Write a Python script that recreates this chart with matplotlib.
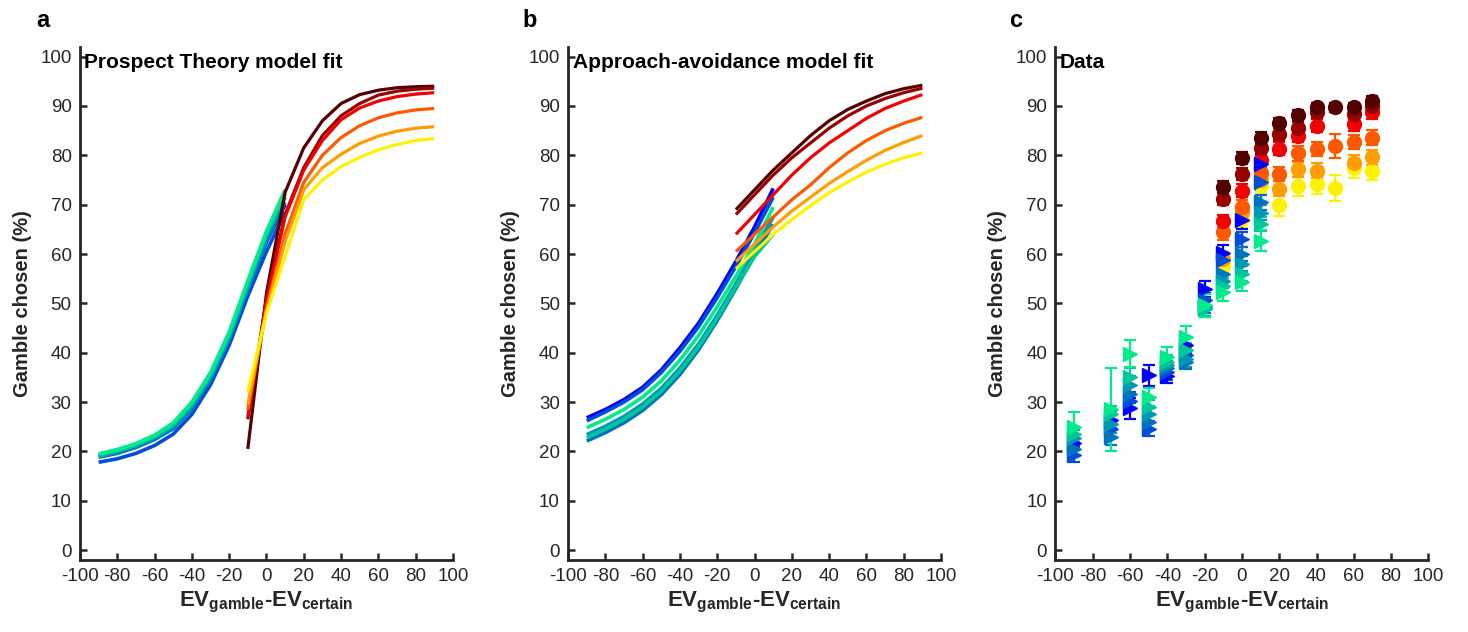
import numpy as np
import matplotlib
matplotlib.use("Agg")
import matplotlib.pyplot as plt

plt.rcParams["font.family"] = ["Liberation Sans", "DejaVu Sans"]
plt.rcParams["mathtext.fontset"] = "custom"
plt.rcParams["mathtext.rm"] = "Liberation Sans"
plt.rcParams["mathtext.bf"] = "Liberation Sans:bold"
plt.rcParams["axes.unicode_minus"] = False

# colours: hot = gain-side conditions, cool = loss-side conditions
HOT_COLORS = [(0.33, 0.0, 0.0), (0.6, 0.0, 0.0), (0.95, 0.0, 0.0),
              (1.0, 0.35, 0.0), (1.0, 0.62, 0.0), (1.0, 0.95, 0.0)]
COOL_COLORS = [(0.0, 0.0, 1.0), (0.0, 0.3, 0.85), (0.0, 0.45, 0.75),
               (0.0, 0.6, 0.7), (0.0, 0.78, 0.6), (0.0, 0.92, 0.55)]

# model curves
x_hot = [-10, 0, 10, 20, 30, 40, 50, 60, 70, 80, 90]
x_cool = [-90, -80, -70, -60, -50, -40, -30, -20, -10, 0, 10]

pt_hot = [
    [20.5, 52.0, 72.5, 81.5, 87.0, 90.5, 92.3, 93.2, 93.7, 93.9, 94.0],
    [26.5, 51.0, 68.0, 77.5, 84.0, 88.0, 90.5, 92.2, 93.0, 93.4, 93.6],
    [27.0, 50.5, 67.5, 77.0, 83.0, 87.2, 89.6, 91.0, 91.9, 92.4, 92.7],
    [28.5, 49.0, 64.0, 74.5, 80.0, 83.6, 86.0, 87.6, 88.6, 89.2, 89.5],
    [29.5, 48.5, 62.5, 73.0, 77.5, 80.2, 82.4, 83.9, 84.9, 85.5, 85.8],
    [32.0, 48.0, 59.5, 71.0, 75.0, 77.7, 79.6, 81.1, 82.2, 83.0, 83.4],
]
pt_cool = [
    [19.0, 19.8, 21.0, 22.6, 25.0, 29.0, 34.8, 42.5, 53.0, 62.5, 70.0],
    [17.8, 18.5, 19.6, 21.2, 23.5, 27.5, 33.5, 41.5, 51.5, 60.5, 68.5],
    [18.8, 19.6, 20.8, 22.4, 24.6, 28.6, 34.5, 42.5, 52.8, 62.5, 70.5],
    [19.0, 19.9, 21.1, 22.7, 25.0, 29.0, 35.0, 43.0, 53.3, 63.3, 71.5],
    [19.2, 20.1, 21.3, 23.0, 25.4, 29.5, 35.5, 43.6, 54.0, 64.0, 72.3],
    [19.5, 20.4, 21.6, 23.3, 25.8, 30.0, 36.0, 44.2, 54.6, 64.6, 73.0],
]

aa_hot = [
    [69.0, 73.0, 77.0, 80.5, 84.0, 87.0, 89.3, 91.0, 92.5, 93.5, 94.2],
    [68.0, 72.0, 76.0, 79.5, 82.5, 85.5, 88.0, 90.0, 91.5, 92.7, 93.6],
    [64.0, 68.0, 72.0, 76.0, 79.5, 82.5, 85.0, 87.5, 89.5, 91.0, 92.3],
    [60.5, 64.0, 67.5, 71.0, 74.0, 77.5, 80.5, 83.0, 85.0, 86.5, 87.7],
    [58.5, 62.0, 65.5, 68.7, 71.5, 74.3, 76.7, 79.0, 81.0, 82.6, 84.0],
    [57.0, 60.5, 64.0, 67.0, 69.8, 72.4, 74.6, 76.6, 78.2, 79.5, 80.5],
]
aa_cool = [
    [26.8, 28.5, 30.5, 33.0, 36.5, 41.0, 46.0, 52.0, 58.5, 65.5, 73.3],
    [26.2, 28.0, 30.0, 32.5, 36.0, 40.3, 45.3, 51.2, 57.5, 64.3, 71.5],
    [22.1, 23.8, 25.8, 28.3, 31.5, 35.6, 40.6, 46.5, 53.0, 59.8, 66.0],
    [23.4, 25.1, 27.1, 29.6, 32.8, 36.9, 41.8, 47.6, 54.0, 60.8, 67.5],
    [22.8, 24.5, 26.5, 29.0, 32.2, 36.3, 41.2, 47.0, 53.3, 59.5, 64.0],
    [24.8, 26.5, 28.5, 31.0, 34.3, 38.5, 43.5, 49.3, 55.5, 62.0, 69.5],
]

# observed data (NaN = condition not tested at that difference)
nan = np.nan
x_data_hot = [-10, 0, 10, 20, 30, 40, 50, 60, 70]
x_data_cool = [-90, -70, -60, -50, -40, -30, -20, -10, 0, 10]

data_hot = [
    [73.6, 79.4, 83.5, 86.6, 88.2, 89.7, 89.7, 89.7, 91.0],
    [71.1, 76.2, 81.5, 84.3, 85.6, 88.7, nan, 88.3, 90.0],
    [66.6, 72.8, 79.0, 81.3, 84.0, 86.0, nan, 86.3, 88.7],
    [64.4, 69.5, 76.5, 76.2, 80.4, 81.3, 81.9, 82.7, 83.6],
    [59.0, 68.5, 75.0, 73.2, 77.2, 76.9, nan, 78.5, 79.6],
    [57.5, 67.0, 74.0, 70.0, 73.8, 74.2, 73.4, 77.5, 76.9],
]
err_hot = [
    [1.2, 1.2, 1.2, 1.0, 1.0, 1.0, 1.0, 1.0, 1.0],
    [1.2, 1.2, 1.2, 1.2, 1.2, 1.2, nan, 1.2, 1.2],
    [1.3, 1.3, 1.3, 1.3, 1.3, 1.3, nan, 1.3, 1.3],
    [1.5, 1.5, 1.5, 1.5, 1.5, 1.5, 2.4, 1.5, 1.5],
    [1.5, 1.5, 1.5, 1.5, 1.5, 1.5, nan, 1.5, 1.5],
    [1.8, 1.8, 1.8, 2.3, 2.0, 2.0, 2.6, 2.0, 2.0],
]
data_cool = [
    [21.8, 26.3, 28.7, 35.4, 35.3, 41.5, 52.9, 60.3, 66.8, 78.2],
    [19.3, 24.5, 30.3, 24.6, 36.0, 39.5, 50.6, 58.7, 63.0, 74.5],
    [20.5, 23.0, 31.7, 26.0, 36.8, 38.1, 49.5, 56.0, 60.0, 70.5],
    [22.8, 25.5, 33.4, 27.5, 37.5, 38.7, 49.0, 54.6, 58.0, 68.4],
    [23.5, 27.5, 35.0, 29.0, 38.1, 40.5, 48.8, 53.6, 56.0, 66.1],
    [25.0, 28.5, 39.8, 31.0, 39.2, 43.2, 49.6, 52.3, 54.3, 62.7],
]
err_cool = [
    [1.5, 1.8, 2.2, 2.2, 1.5, 1.6, 1.6, 1.6, 1.7, 1.8],
    [1.5, 1.8, 1.8, 1.5, 1.5, 1.5, 1.5, 1.5, 1.5, 1.5],
    [1.5, 1.8, 1.8, 1.5, 1.5, 1.5, 1.5, 1.5, 1.5, 1.5],
    [1.5, 1.8, 1.8, 1.5, 1.5, 1.5, 1.5, 1.5, 1.5, 1.5],
    [1.5, 1.8, 1.8, 1.5, 1.5, 1.5, 1.5, 1.5, 1.5, 1.5],
    [3.0, 8.5, 2.7, 1.8, 2.0, 2.3, 2.3, 1.8, 1.8, 2.1],
]

X_TICKS = list(range(-100, 101, 20))
Y_TICKS = list(range(0, 101, 10))
TXT = (0.15, 0.15, 0.15)


def style_axes(ax, title):
    ax.set_xlim(-100, 100)
    ax.set_ylim(-2, 102)
    ax.set_xticks(X_TICKS)
    ax.set_yticks(Y_TICKS)
    for s in ["top", "right"]:
        ax.spines[s].set_visible(False)
    for s in ["left", "bottom"]:
        ax.spines[s].set_linewidth(2)
        ax.spines[s].set_color(TXT)
    ax.tick_params(direction="in", length=5, width=1.8, colors=TXT,
                   labelsize=13.5, pad=6)
    ax.set_ylabel("Gamble chosen (%)", fontsize=14.5, fontweight="bold",
                  color=TXT, labelpad=6)
    ax.set_xlabel(r"$\mathbf{EV_{gamble}}$-$\mathbf{EV_{certain}}$",
                  fontsize=16, fontweight="bold", color=TXT, labelpad=3)
    ax.text(0.012, 0.988, title, transform=ax.transAxes, ha="left", va="top",
            fontsize=15, fontweight="bold", color="black")


def model_panel(ax, hot, cool, title):
    for ys, c in zip(cool, COOL_COLORS):
        ax.plot(x_cool, ys, color=c, lw=2.6, solid_capstyle="butt")
    for ys, c in zip(hot, HOT_COLORS):
        ax.plot(x_hot, ys, color=c, lw=2.3, solid_capstyle="butt")
    style_axes(ax, title)


def data_panel(ax):
    for ys, es, c in zip(data_hot[::-1], err_hot[::-1], HOT_COLORS[::-1]):
        ax.errorbar(x_data_hot, ys, yerr=es, fmt="o", color=c, ms=10,
                    mec=c, elinewidth=1.6, capsize=4, capthick=1.6)
    for ys, es, c in zip(data_cool, err_cool, COOL_COLORS):
        ax.errorbar(x_data_cool, ys, yerr=es, fmt=">", color=c, ms=10,
                    mec=c, elinewidth=1.6, capsize=4, capthick=1.6)
    style_axes(ax, "Data")


fig = plt.figure(figsize=(14.68, 6.32), dpi=100)
w, h, b = 0.254, 0.812, 0.114
ax_a = fig.add_axes([0.0545, b, w, h])
ax_b = fig.add_axes([0.387, b, w, h])
ax_c = fig.add_axes([0.719, b, w, h])

model_panel(ax_a, pt_hot, pt_cool, "Prospect Theory model fit")
model_panel(ax_b, aa_hot, aa_cool, "Approach-avoidance model fit")
data_panel(ax_c)

for lab, xpos in zip(["a", "b", "c"], [0.029, 0.361, 0.692]):
    fig.text(xpos, 0.968, lab, fontsize=17, fontweight="bold",
             ha="center", va="center")

fig.savefig("out.png", dpi=100)
